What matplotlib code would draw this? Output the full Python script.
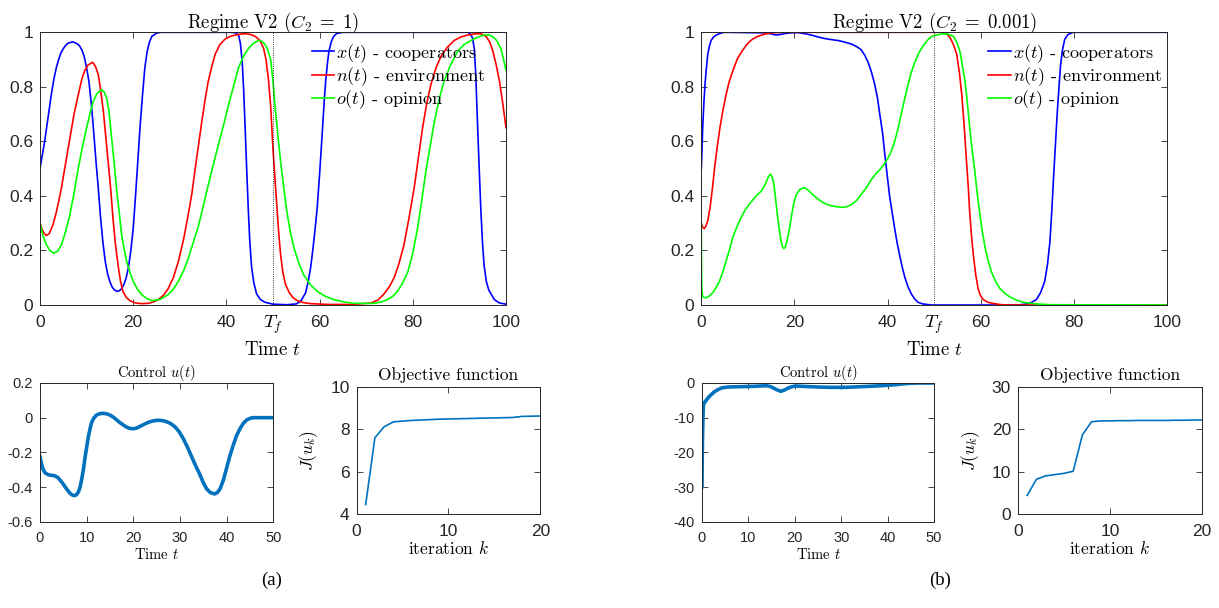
import numpy as np
import matplotlib
matplotlib.use("Agg")
from matplotlib import pyplot as plt
from matplotlib.ticker import FuncFormatter

plt.rcParams['font.family'] = ['Liberation Sans', 'DejaVu Sans']
plt.rcParams['mathtext.fontset'] = 'cm'
plt.rcParams['axes.unicode_minus'] = False

# ---- regime (a): C2 = 1 ----
t_x1 = [0, 0.5, 1, 1.5, 2, 2.5, 3, 3.5, 4, 4.5, 5, 5.5, 6, 7, 8, 8.5, 9, 9.5, 10, 10.5, 11, 11.5, 12,
        12.5, 13, 13.5, 14, 14.5, 15, 15.5, 16, 16.5, 17, 17.5, 18, 18.5, 19, 19.5, 20, 20.5, 21, 21.5,
        22, 22.5, 23, 23.5, 24, 25, 26, 41, 42, 42.6, 43, 43.4, 43.7, 44, 44.35, 44.7, 45, 45.4, 45.9,
        46.5, 47.3, 48.3, 50, 53, 55, 56, 57, 57.6, 58.1, 58.6, 59.1, 59.5, 60, 60.3, 60.6, 61, 61.3,
        61.7, 62, 62.5, 63, 63.7, 65, 91.8, 92.3, 92.8, 93.2, 93.5, 93.9, 94.25, 94.6, 94.95, 95.3,
        95.8, 96.3, 96.8, 97.5, 98.5, 100]
x1 = [0.50, 0.55, 0.60, 0.66, 0.72, 0.78, 0.83, 0.87, 0.90, 0.925, 0.94, 0.952, 0.96, 0.965, 0.958, 0.95,
      0.935, 0.91, 0.87, 0.82, 0.74, 0.64, 0.53, 0.43, 0.32, 0.23, 0.16, 0.115, 0.085, 0.065, 0.055, 0.05,
      0.052, 0.06, 0.075, 0.10, 0.14, 0.20, 0.28, 0.40, 0.53, 0.66, 0.77, 0.87, 0.93, 0.965, 0.985, 0.997,
      1.0, 1.0, 0.998, 0.99, 0.96, 0.89, 0.79, 0.66, 0.50, 0.35, 0.24, 0.14, 0.08, 0.04, 0.02, 0.01, 0.003,
      0.001, 0.004, 0.015, 0.045, 0.09, 0.14, 0.21, 0.29, 0.36, 0.48, 0.56, 0.64, 0.75, 0.82, 0.89, 0.93,
      0.965, 0.985, 0.996, 1.0, 1.0, 0.995, 0.98, 0.94, 0.85, 0.66, 0.50, 0.35, 0.23, 0.145, 0.085, 0.055,
      0.04, 0.02, 0.008, 0.003]

t_n1 = [0, 0.5, 1, 1.4, 2, 2.8, 3.5, 4, 4.6, 5.5, 6.4, 7.3, 8.2, 9, 9.6, 10.3, 11.3, 11.9, 12.5, 13, 13.6,
        14.1, 14.6, 15.2, 15.7, 16.2, 16.8, 17.3, 17.8, 18.5, 19.3, 20.2, 21.1, 22, 23.2, 24.3, 25.4, 26.5,
        27.5, 28.6, 29.7, 30.8, 31.8, 32.6, 33.3, 34, 34.7, 35.4, 36.1, 36.8, 37.6, 38.6, 39.7, 40.8, 41.9,
        43, 44, 45.2, 46.2, 47.2, 48, 48.5, 49, 49.5, 50, 50.4, 50.8, 51.2, 51.6, 52.1, 52.7, 53.5, 54.3,
        55.2, 56.5, 58, 62, 67, 71, 72.5, 73.8, 75, 76, 77, 78.1, 79.2, 80.3, 81.2, 82.1, 83, 83.9, 85, 86,
        87.4, 88.9, 90.3, 91.8, 93.2, 94.6, 95.7, 96.5, 97.2, 97.9, 98.6, 99.3, 100]
n1 = [0.30, 0.275, 0.26, 0.255, 0.262, 0.295, 0.34, 0.38, 0.43, 0.52, 0.61, 0.70, 0.77, 0.83, 0.86, 0.88,
      0.89, 0.875, 0.845, 0.79, 0.71, 0.62, 0.53, 0.42, 0.31, 0.22, 0.14, 0.085, 0.05, 0.028, 0.016, 0.009,
      0.006, 0.005, 0.006, 0.011, 0.02, 0.036, 0.06, 0.10, 0.16, 0.24, 0.33, 0.41, 0.50, 0.585, 0.67, 0.75,
      0.82, 0.87, 0.92, 0.955, 0.975, 0.985, 0.99, 0.993, 0.995, 0.992, 0.985, 0.97, 0.94, 0.90, 0.83, 0.73,
      0.57, 0.47, 0.37, 0.27, 0.19, 0.12, 0.075, 0.045, 0.027, 0.016, 0.009, 0.005, 0.002, 0.002, 0.007,
      0.018, 0.04, 0.068, 0.10, 0.15, 0.22, 0.32, 0.43, 0.54, 0.65, 0.74, 0.81, 0.87, 0.91, 0.945, 0.97,
      0.983, 0.99, 0.994, 0.995, 0.985, 0.965, 0.93, 0.88, 0.82, 0.74, 0.65]

t_o1 = [0, 0.7, 1.4, 2.2, 3, 3.8, 4.6, 5.5, 6.4, 7.3, 8.2, 9.1, 10, 10.7, 11.4, 12.2, 13.2, 13.8, 14.3, 14.8,
        15.3, 15.8, 16.4, 17, 17.5, 18, 18.6, 19.3, 20, 20.9, 21.8, 22.9, 24, 25.7, 27.5, 28.6, 29.7, 30.8,
        31.8, 32.9, 34, 35, 36.1, 37.2, 38.3, 39.4, 40.4, 41.5, 42.6, 43.6, 44.7, 45.8, 46.9, 47.6, 48.3,
        48.9, 49.5, 50, 50.5, 51, 51.6, 52.3, 53, 53.7, 54.5, 55.5, 56.6, 58, 59.5, 61.2, 63, 65, 67.4, 71.6,
        73.2, 74.6, 75.7, 76.7, 77.8, 78.9, 80, 81, 81.9, 82.8, 83.7, 84.6, 85.6, 86.7, 88.1, 89.6, 91, 92.5,
        93.9, 95.3, 96.3, 97.1, 98, 98.9, 99.5, 100]
o1 = [0.30, 0.25, 0.22, 0.198, 0.19, 0.198, 0.22, 0.27, 0.33, 0.41, 0.50, 0.58, 0.65, 0.70, 0.745, 0.775,
      0.79, 0.78, 0.76, 0.71, 0.625, 0.54, 0.43, 0.34, 0.26, 0.21, 0.16, 0.12, 0.087, 0.058, 0.038, 0.024,
      0.016, 0.02, 0.038, 0.058, 0.087, 0.125, 0.17, 0.23, 0.29, 0.36, 0.44, 0.515, 0.59, 0.66, 0.73, 0.80,
      0.87, 0.91, 0.94, 0.96, 0.97, 0.967, 0.955, 0.935, 0.90, 0.82, 0.72, 0.63, 0.53, 0.43, 0.34, 0.27,
      0.21, 0.155, 0.11, 0.075, 0.05, 0.032, 0.02, 0.012, 0.006, 0.006, 0.011, 0.02, 0.032, 0.05, 0.08,
      0.12, 0.19, 0.28, 0.38, 0.49, 0.58, 0.67, 0.75, 0.82, 0.88, 0.93, 0.955, 0.97, 0.982, 0.99, 0.99,
      0.985, 0.97, 0.94, 0.90, 0.86]

t_u1 = [0, 0.2, 0.5, 0.8, 1.1, 1.6, 2.1, 2.7, 3.2, 3.8, 4.3, 4.9, 5.4, 5.9, 6.4, 6.9, 7.4, 7.8, 8.2, 8.6,
        8.9, 9.3, 9.6, 10, 10.4, 10.8, 11.1, 11.6, 12.1, 12.8, 13.6, 14.3, 15, 15.7, 16.4, 17.1, 17.9, 18.6,
        19.3, 20, 20.7, 21.8, 22.7, 23.6, 24.5, 25.4, 26.3, 27.1, 28, 28.9, 29.8, 30.7, 31.6, 32.5, 33.4,
        34.3, 35, 35.7, 36.5, 37.4, 38, 38.6, 39.3, 40, 40.7, 41.4, 42.1, 42.9, 43.6, 44.3, 45, 45.7, 50]
u1 = [-0.225, -0.25, -0.285, -0.305, -0.318, -0.327, -0.331, -0.333, -0.336, -0.345, -0.36, -0.38, -0.40,
      -0.418, -0.435, -0.446, -0.45, -0.445, -0.43, -0.40, -0.36, -0.30, -0.24, -0.17, -0.105, -0.055,
      -0.025, 0.0, 0.015, 0.023, 0.025, 0.022, 0.015, 0.003, -0.012, -0.028, -0.043, -0.055, -0.062,
      -0.064, -0.06, -0.045, -0.033, -0.023, -0.017, -0.015, -0.017, -0.023, -0.034, -0.052, -0.08, -0.12,
      -0.17, -0.225, -0.28, -0.33, -0.375, -0.41, -0.432, -0.44, -0.432, -0.41, -0.36, -0.29, -0.22,
      -0.16, -0.105, -0.062, -0.032, -0.013, -0.004, 0.0, 0.0]

iters = list(range(1, 21))
J1 = [4.45, 7.6, 8.12, 8.35, 8.39, 8.42, 8.44, 8.46, 8.48, 8.49, 8.50, 8.51, 8.52, 8.53, 8.54, 8.55, 8.56,
      8.61, 8.62, 8.63]

# ---- regime (b): C2 = 0.001 ----
t_x2 = [0, 0.15, 0.3, 0.55, 0.8, 1.1, 1.4, 1.75, 2.1, 2.6, 3.2, 4, 4.9, 13.5, 14.8, 16, 17, 17.8, 19.2,
        20.7, 22.2, 23.6, 25, 26.5, 28, 29.3, 30.8, 32.2, 33.3, 34.3, 35.1, 35.8, 36.5, 37.2, 37.8, 38.3,
        38.9, 39.4, 39.9, 40.4, 41, 41.5, 42, 42.6, 43.1, 43.7, 44.4, 45.1, 45.8, 46.5, 47.5, 49.4, 68,
        69.8, 70.9, 71.9, 72.8, 73.7, 74.3, 74.8, 75.2, 75.6, 76, 76.4, 76.8, 77.1, 77.5, 78, 78.7, 79.8, 100]
x2 = [0.50, 0.57, 0.65, 0.74, 0.81, 0.87, 0.92, 0.95, 0.97, 0.982, 0.99, 0.996, 1.0, 0.998, 0.995, 0.99,
      0.992, 0.995, 0.998, 0.999, 0.995, 0.99, 0.983, 0.977, 0.973, 0.97, 0.964, 0.957, 0.948, 0.936,
      0.915, 0.89, 0.855, 0.81, 0.76, 0.70, 0.63, 0.55, 0.475, 0.40, 0.335, 0.28, 0.23, 0.18, 0.14, 0.10,
      0.065, 0.04, 0.022, 0.01, 0.004, 0.0, 0.0, 0.004, 0.01, 0.02, 0.045, 0.087, 0.15, 0.23, 0.34, 0.47,
      0.59, 0.71, 0.81, 0.88, 0.935, 0.975, 0.992, 1.0, 1.0]

t_n2 = [0, 0.3, 0.65, 1, 1.4, 1.9, 2.4, 2.9, 3.5, 4, 4.6, 5.3, 6, 6.9, 7.8, 8.9, 10, 11, 12.1, 13.5, 15,
        17.8, 51.9, 52.7, 53.4, 54.1, 54.8, 55.4, 55.9, 56.4, 56.9, 57.3, 57.6, 58, 58.4, 58.9, 59.4, 59.9,
        60.5, 61.5, 62.6, 64, 65.5, 100]
n2 = [0.30, 0.285, 0.28, 0.29, 0.31, 0.36, 0.43, 0.51, 0.59, 0.65, 0.71, 0.77, 0.82, 0.865, 0.905, 0.935,
      0.96, 0.975, 0.985, 0.993, 0.998, 1.0, 1.0, 0.993, 0.98, 0.955, 0.92, 0.85, 0.77, 0.66, 0.53, 0.43,
      0.34, 0.25, 0.18, 0.11, 0.06, 0.035, 0.02, 0.01, 0.006, 0.002, 0.0, 0.0]

t_o2 = [0, 0.05, 0.1, 0.3, 1, 1.7, 2.4, 3.1, 3.9, 4.6, 5.3, 6, 6.7, 7.6, 8.5, 9.4, 10.3, 11.8, 12.8, 13.4,
        13.9, 14.4, 14.8, 15.2, 15.6, 16, 16.4, 16.8, 17.1, 17.4, 17.7, 18, 18.4, 18.8, 19.3, 19.8, 20.4,
        21.2, 22.2, 23, 23.9, 24.8, 25.7, 26.8, 27.9, 29.1, 30.4, 31.3, 32.2, 33.3, 34.3, 35.4, 36.5, 37.4,
        38.3, 39.2, 40.1, 40.8, 41.5, 42.2, 42.9, 43.7, 44.4, 45.1, 45.8, 46.7, 47.6, 48.5, 49.4, 50.5, 51.9,
        53, 54.1, 54.8, 55.5, 56, 56.6, 57.1, 57.6, 58.1, 58.7, 59.2, 59.8, 60.3, 60.9, 61.6, 62.3, 63.2,
        64.1, 65.1, 66.2, 67.6, 69.1, 71.9, 75, 100]
o2 = [0.30, 0.15, 0.06, 0.03, 0.026, 0.033, 0.044, 0.062, 0.087, 0.12, 0.16, 0.20, 0.245, 0.285, 0.32,
      0.348, 0.37, 0.40, 0.417, 0.432, 0.45, 0.47, 0.48, 0.47, 0.44, 0.38, 0.32, 0.27, 0.235, 0.215, 0.207,
      0.212, 0.235, 0.27, 0.32, 0.37, 0.405, 0.425, 0.43, 0.42, 0.405, 0.392, 0.38, 0.37, 0.364, 0.36,
      0.358, 0.361, 0.368, 0.383, 0.405, 0.43, 0.46, 0.48, 0.496, 0.515, 0.54, 0.565, 0.60, 0.645, 0.70,
      0.76, 0.81, 0.855, 0.89, 0.925, 0.95, 0.97, 0.985, 0.99, 0.995, 0.993, 0.985, 0.965, 0.93, 0.88,
      0.82, 0.74, 0.65, 0.57, 0.49, 0.41, 0.33, 0.27, 0.21, 0.16, 0.12, 0.085, 0.06, 0.043, 0.03, 0.018,
      0.01, 0.004, 0.001, 0.0]

t_u2 = [0, 0.05, 0.1, 0.2, 0.3, 0.6, 1, 1.5, 2.1, 2.6, 3.2, 3.7, 4.2, 5, 5.7, 7, 8.6, 10, 11.4, 12.8, 14,
        14.7, 15.4, 16.2, 17, 17.8, 18.6, 19.3, 20.1, 21.5, 23, 25, 27.3, 30.9, 34.5, 38.8, 41.7, 43, 44.5,
        46, 47.4, 50]
u2 = [-29.9, -22, -16.9, -10, -6.3, -5.5, -4.8, -4.0, -3.2, -2.6, -2.1, -1.75, -1.45, -1.25, -1.15, -1.1,
      -1.05, -1.0, -0.95, -0.85, -0.8, -1.0, -1.45, -2.0, -2.4, -2.0, -1.45, -1.1, -0.87, -0.95, -1.05,
      -1.15, -1.25, -1.25, -1.05, -0.77, -0.48, -0.3, -0.1, -0.02, 0.0, 0.0]

J2 = [4.4, 8.2, 9.0, 9.3, 9.6, 10.1, 18.7, 21.8, 22.0, 22.0, 22.05, 22.05, 22.1, 22.1, 22.1, 22.1, 22.15,
      22.15, 22.2, 22.2]

T_f = 50
labels = [r'$x(t)$ - cooperators', r'$n(t)$ - environment', r'$o(t)$ - opinion']

W, H = 1219, 608
fig = plt.figure(figsize=(W / 100, H / 100), dpi=100)
SERIF = 'cmr10'
MBLUE = '#0072BD'


def px_axes(l, r, top, bot):
    return fig.add_axes([l / W, 1 - bot / H, (r - l) / W, (bot - top) / H])


def matlab_style(ax, fs):
    ax.tick_params(direction='in', top=True, right=True, length=4, width=0.6,
                   colors='0.15', labelsize=fs)
    ax.tick_params(axis='x', pad=7)
    ax.tick_params(axis='y', pad=5)
    for s in ax.spines.values():
        s.set_color('0.15')
        s.set_linewidth(0.7)
    fmt = FuncFormatter(lambda v, p: '%g' % v)
    ax.xaxis.set_major_formatter(fmt)
    ax.yaxis.set_major_formatter(fmt)


def top_panel(ax, tx, x, tn, n, to, o, title, leg_x):
    ax.plot(tx, x, color='b', lw=1.2, label=labels[0])
    ax.plot(tn, n, color='r', lw=1.2, label=labels[1])
    ax.plot(to, o, color='#00ff00', lw=1.2, label=labels[2])
    ax.axvline(T_f, color='k', ls=':', lw=0.6)
    ax.set_xlim(0, 100)
    ax.set_ylim(0, 1)
    ax.set_xticks([0, 20, 40, 60, 80, 100])
    ax.set_yticks([0, 0.2, 0.4, 0.6, 0.8, 1])
    matlab_style(ax, 12.5)
    ax.set_title(title, family=SERIF, fontsize=13.5, pad=3)
    ax.set_xlabel(r'Time $t$', family=SERIF, fontsize=13.5, labelpad=8)
    ax.text(T_f, -0.03, r'$T_f$', transform=ax.get_xaxis_transform(),
            ha='center', va='top', fontsize=13.5)
    ax.legend(loc='upper left', bbox_to_anchor=(leg_x, 0.965), frameon=False,
              prop={'family': SERIF, 'size': 13}, handlelength=1.25, handletextpad=0.1,
              labelspacing=0.03, borderaxespad=0, borderpad=0)


def control_panel(ax, t, u, yticks):
    ax.plot(t, u, color=MBLUE, lw=2.6)
    ax.set_xlim(0, 50)
    ax.set_ylim(yticks[0], yticks[-1])
    ax.set_xticks([0, 10, 20, 30, 40, 50])
    ax.set_yticks(yticks)
    matlab_style(ax, 10.5)
    ax.set_title(r'Control $u(t)$', family=SERIF, fontsize=10.5, pad=4)
    ax.set_xlabel(r'Time $t$', family=SERIF, fontsize=10.5, labelpad=1)


def objective_panel(ax, J, yticks):
    ax.plot(iters, J, color=MBLUE, lw=1.2)
    ax.set_xlim(0, 20)
    ax.set_ylim(yticks[0], yticks[-1])
    ax.set_xticks([0, 10, 20])
    ax.set_yticks(yticks)
    matlab_style(ax, 12.5)
    ax.set_title('Objective function', family=SERIF, fontsize=12.5, pad=5)
    ax.set_xlabel(r'iteration $k$', family=SERIF, fontsize=12.5, labelpad=1)
    ax.set_ylabel(r'$J(u_k)$', fontsize=12.5, labelpad=7)


ax1 = px_axes(40, 506, 32.3, 305)
top_panel(ax1, t_x1, x1, t_n1, n1, t_o1, o1, r'Regime V2 ($C_2 \;=\; 1$)', 0.583)
ax2 = px_axes(701.3, 1167.3, 32.3, 305)
top_panel(ax2, t_x2, x2, t_n2, n2, t_o2, o2, r'Regime V2 ($C_2 \;=\; 0.001$)', 0.616)

ax3 = px_axes(40, 273.3, 383, 521.7)
control_panel(ax3, t_u1, u1, [-0.6, -0.4, -0.2, 0, 0.2])
ax4 = px_axes(356.5, 540.3, 387, 514)
objective_panel(ax4, J1, [4, 6, 8, 10])

ax5 = px_axes(702, 934, 383, 521.7)
control_panel(ax5, t_u2, u2, [-40, -30, -20, -10, 0])
ax6 = px_axes(1018, 1202, 387, 514)
objective_panel(ax6, J2, [0, 10, 20, 30])

serif_fam = ['Liberation Serif', 'DejaVu Serif']
fig.text(272 / W, 1 - 580 / H, '(a)', family=serif_fam, fontsize=13.5, ha='center', va='center')
fig.text(940 / W, 1 - 580 / H, '(b)', family=serif_fam, fontsize=13.5, ha='center', va='center')

fig.savefig('out.png', dpi=100)
